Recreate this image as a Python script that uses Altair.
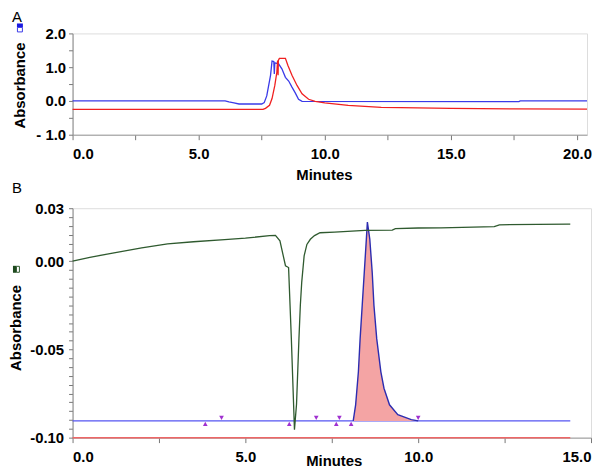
import altair as alt
import pandas as pd

# ---------------- Panel A data ----------------
a_blue_t = [0.0, 6.05, 6.2, 6.4, 6.6, 7.5, 7.6, 7.7, 7.85, 7.91, 7.98, 8.0, 8.02, 8.17, 8.3, 8.44, 8.57, 8.7, 8.83, 8.96, 9.1, 17.7, 17.75, 20.4]
a_blue_v = [0.0, 0.0, -0.03, -0.06, -0.09, -0.09, -0.05, 0.15, 0.76, 1.18, 1.17, 0.8, 1.13, 1.1, 0.95, 0.7, 0.59, 0.41, 0.24, 0.05, -0.01, -0.02, 0.0, 0.0]

a_red_t = [0.0, 7.55, 7.65, 7.81, 7.91, 8.02, 8.1, 8.13, 8.15, 8.16, 8.2, 8.44, 8.54, 8.7, 8.9, 9.1, 9.36, 9.62, 10.0, 10.93, 12.24, 13.0, 15.0, 17.5, 20.4]
a_red_v = [-0.25, -0.25, -0.22, -0.13, 0.07, 0.46, 0.85, 1.2, 0.76, 1.2, 1.26, 1.26, 1.05, 0.76, 0.46, 0.21, 0.05, -0.01, -0.06, -0.13, -0.19, -0.2, -0.22, -0.235, -0.24]

a_x_ticks = [0, 2.5, 5, 7.5, 10, 12.5, 15, 17.5, 20]
a_y_ticks = [-1, -0.5, 0, 0.5, 1, 1.5, 2]

# ---------------- Panel B data ----------------
b_green_t = [0.0, 0.5, 1.2, 2.0, 2.75, 3.5, 4.4, 5.0, 5.7, 5.87, 6.0, 6.16, 6.25, 6.33, 6.42, 6.48, 6.55, 6.59, 6.63, 6.7, 6.78, 6.88, 7.0, 7.16, 7.58, 8.46, 9.25, 9.34, 10.0, 10.66, 12.2, 12.35, 14.34, 14.4]
b_green_v = [0.0, 0.0022, 0.0047, 0.0075, 0.0098, 0.011, 0.0122, 0.013, 0.0145, 0.0146, 0.0115, -0.0026, -0.0036, -0.0439, -0.0955, -0.081, -0.0439, -0.0251, -0.012, 0.003, 0.0095, 0.0124, 0.0145, 0.0161, 0.0165, 0.0175, 0.0176, 0.0184, 0.0188, 0.0189, 0.0196, 0.0206, 0.021, 0.021]

b_peak_t = [8.12, 8.19, 8.27, 8.32, 8.38, 8.44, 8.5, 8.53, 8.6, 8.67, 8.72, 8.8, 8.92, 9.01, 9.17, 9.41, 9.8, 10.0]
b_peak_v = [-0.0905, -0.0814, -0.0627, -0.0439, -0.0251, -0.0064, 0.0124, 0.0221, 0.0124, -0.0064, -0.0251, -0.0439, -0.0627, -0.072, -0.0814, -0.087, -0.0898, -0.0905]
b_peak_base = -0.0905

b_base_t = [0.0, 14.4]
b_base_v = [-0.0905, -0.0905]
b_red_t = [0.0, 14.4]
b_red_v = [-0.10, -0.10]

b_up_t = [3.84, 6.27, 7.63, 8.06]
b_up_v = [-0.0922, -0.0922, -0.0922, -0.0922]
b_down_t = [4.31, 7.05, 7.72, 10.0]
b_down_v = [-0.0888, -0.0888, -0.0888, -0.0888]

b_x_ticks = [0, 2.5, 5, 7.5, 10, 12.5, 15]
b_y_ticks = [round(-0.10 + 0.005 * i, 3) for i in range(27)]

FONT = "Liberation Sans"

def xaxis(values, title_x, title_y):
    return alt.Axis(values=values, title="Minutes", grid=False,
                    labelExpr="datum.value % 5 == 0 ? format(datum.value, '.1f') : ''",
                    labelFont=FONT, labelFontWeight="bold", labelFontSize=15, labelColor="black",
                    labelPadding=7, tickSize=5, tickColor="#777", domainColor="#999",
                    titleFont=FONT, titleFontWeight="bold", titleFontSize=15, titleColor="black",
                    titleX=title_x, titleY=title_y, titleBaseline="middle", titleAlign="center")

# ---------------- Panel A ----------------
ax = alt.X("t:Q", scale=alt.Scale(domain=[0, 20.4], nice=False, zero=False),
           axis=xaxis(a_x_ticks, 253, 40))
ay = alt.Y("v:Q", scale=alt.Scale(domain=[-1, 2], nice=False, zero=False),
           axis=alt.Axis(values=a_y_ticks, title="Absorbance", grid=False,
                         labelExpr="datum.value % 1 == 0 ? (datum.value < 0 ? '- ' : '') + format(abs(datum.value), '.1f') : ''",
                         labelFont=FONT, labelFontWeight="bold", labelFontSize=15, labelColor="black",
                         labelPadding=3, tickSize=4, tickColor="#777", domainColor="#888",
                         titleFont=FONT, titleFontWeight="bold", titleFontSize=15, titleColor="black",
                         titleX=-53, titleY=52, titleAngle=270, titleBaseline="middle", titleAlign="center"))

a_blue = alt.Chart(pd.DataFrame({"t": a_blue_t, "v": a_blue_v})).mark_line(
    color="#3a3ae8", strokeWidth=1.3, interpolate="linear").encode(x=ax, y=ay)
a_red = alt.Chart(pd.DataFrame({"t": a_red_t, "v": a_red_v})).mark_line(
    color="#f02020", strokeWidth=1.3).encode(x=ax, y=ay)

one = pd.DataFrame({"lab": ["A"]})
a_label = alt.Chart(one).mark_text(align="left", baseline="top", font=FONT, fontSize=15, color="black").encode(
    x=alt.value(-61), y=alt.value(-23), text="lab:N")
a_icon1 = alt.Chart(one).mark_rect(color="#1a1ae0").encode(
    x=alt.value(-56), x2=alt.value(-50), y=alt.value(-10), y2=alt.value(-6))
a_icon2 = alt.Chart(one).mark_rect(fill="white", stroke="#3a3ae8", strokeWidth=1).encode(
    x=alt.value(-55.5), x2=alt.value(-50.5), y=alt.value(-6), y2=alt.value(-1.5))

panelA = alt.layer(a_blue, a_red, a_label, a_icon1, a_icon2).properties(width=518, height=102)

# ---------------- Panel B ----------------
bx = alt.X("t:Q", scale=alt.Scale(domain=[0, 15], nice=False, zero=False),
           axis=xaxis(b_x_ticks, 263, 23))
by = alt.Y("v:Q", scale=alt.Scale(domain=[-0.10, 0.03], nice=False, zero=False),
           axis=alt.Axis(values=b_y_ticks, title="Absorbance", grid=False,
                         labelExpr="(abs(datum.value - 0.03) < 1e-9 || abs(datum.value * 20 - round(datum.value * 20)) < 1e-9) ? (datum.value < 0 ? '-' : '') + format(abs(datum.value), '.2f') : ''",
                         labelFont=FONT, labelFontWeight="bold", labelFontSize=15, labelColor="black",
                         labelPadding=5, tickSize=4, tickColor="#777", domainColor="#888",
                         titleFont=FONT, titleFontWeight="bold", titleFontSize=15, titleColor="black",
                         titleX=-57, titleY=120, titleAngle=270, titleBaseline="middle", titleAlign="center"))

b_redline = alt.Chart(pd.DataFrame({"t": b_red_t, "v": b_red_v})).mark_line(
    color="#ee6666", strokeWidth=1.5).encode(x=bx, y=by)
b_baseline = alt.Chart(pd.DataFrame({"t": b_base_t, "v": b_base_v})).mark_line(
    color="#5555f2", strokeWidth=1.2).encode(x=bx, y=by)
peak_df = pd.DataFrame({"t": b_peak_t, "v": b_peak_v, "b": [b_peak_base] * len(b_peak_t)})
b_fill = alt.Chart(peak_df).mark_area(color="#f4a4a4", opacity=1).encode(
    x=bx, y=by, y2="b:Q")
b_peak = alt.Chart(peak_df).mark_line(color="#2c2cb0", strokeWidth=1.4).encode(x=bx, y=by)
b_green = alt.Chart(pd.DataFrame({"t": b_green_t, "v": b_green_v})).mark_line(
    color="#2f5a2f", strokeWidth=1.3).encode(x=bx, y=by)
b_up = alt.Chart(pd.DataFrame({"t": b_up_t, "v": b_up_v})).mark_point(
    shape="triangle-up", filled=True, color="#a030d0", size=22, opacity=1).encode(x=bx, y=by)
b_down = alt.Chart(pd.DataFrame({"t": b_down_t, "v": b_down_v})).mark_point(
    shape="triangle-down", filled=True, color="#a030d0", size=22, opacity=1).encode(x=bx, y=by)

oneB = pd.DataFrame({"lab": ["B"]})
b_label = alt.Chart(oneB).mark_text(align="left", baseline="top", font=FONT, fontSize=15, color="black").encode(
    x=alt.value(-61), y=alt.value(-27), text="lab:N")
b_icon1 = alt.Chart(oneB).mark_rect(color="#1e4a1e").encode(
    x=alt.value(-60), x2=alt.value(-56.5), y=alt.value(58), y2=alt.value(65))
b_icon2 = alt.Chart(oneB).mark_rect(fill="white", stroke="#2f5a2f", strokeWidth=1).encode(
    x=alt.value(-56.5), x2=alt.value(-53.5), y=alt.value(58.5), y2=alt.value(64.5))

panelB = alt.layer(b_redline, b_baseline, b_fill, b_peak, b_green, b_up, b_down,
                   b_label, b_icon1, b_icon2).properties(width=522, height=231)

chart = alt.vconcat(panelA, panelB, spacing=74, bounds="flush").properties(
    padding=0
).configure_view(stroke=None).configure(background="white")

chart.save("out.html", embed_options={"renderer": "svg", "actions": False})
